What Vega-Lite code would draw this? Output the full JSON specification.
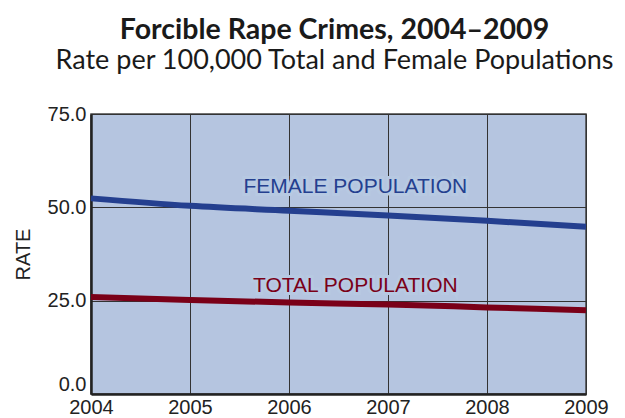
{
  "$schema": "https://vega.github.io/schema/vega-lite/v6.json",
  "autosize": "none",
  "width": 495,
  "height": 280,
  "padding": {"left": 91, "top": 114, "right": 39, "bottom": 24},
  "background": "white",
  "title": {
    "text": "Forcible Rape Crimes,  2004–2009",
    "subtitle": "Rate per 100,000 Total and Female Populations",
    "anchor": "middle",
    "frame": "group",
    "dx": -4,
    "offset": 30,
    "font": "Lato",
    "fontSize": 28.5,
    "fontWeight": "bold",
    "color": "#1a1a1a",
    "subtitleFont": "Lato",
    "subtitleFontSize": 27,
    "subtitleColor": "#1a1a1a",
    "subtitlePadding": 4
  },
  "config": {
    "view": {"fill": "#b5c5e0", "stroke": "#444", "strokeWidth": 1.5},
    "axis": {
      "labelFont": "Liberation Sans",
      "labelFontSize": 20,
      "labelColor": "#222",
      "titleFont": "Liberation Sans",
      "titleFontSize": 20,
      "titleFontWeight": "normal",
      "titleColor": "#222",
      "domainColor": "#222",
      "domainWidth": 2.5,
      "gridColor": "#333",
      "gridWidth": 1,
      "gridOpacity": 1,
      "ticks": false
    }
  },
  "data": {
    "values": [
      {"year": 2004, "series": "Female", "rate": 52.4},
      {"year": 2005, "series": "Female", "rate": 50.4},
      {"year": 2006, "series": "Female", "rate": 49.1},
      {"year": 2007, "series": "Female", "rate": 47.8},
      {"year": 2008, "series": "Female", "rate": 46.4},
      {"year": 2009, "series": "Female", "rate": 44.8},
      {"year": 2004, "series": "Total", "rate": 26.0},
      {"year": 2005, "series": "Total", "rate": 25.2},
      {"year": 2006, "series": "Total", "rate": 24.5},
      {"year": 2007, "series": "Total", "rate": 24.0},
      {"year": 2008, "series": "Total", "rate": 23.2},
      {"year": 2009, "series": "Total", "rate": 22.4}
    ]
  },
  "encoding": {
    "x": {
      "field": "year",
      "type": "quantitative",
      "scale": {"domain": [2004, 2009], "nice": false, "zero": false},
      "axis": {"title": null, "values": [2004, 2005, 2006, 2007, 2008, 2009], "format": "d", "labelPadding": 3, "labelFlush": false}
    },
    "y": {
      "field": "rate",
      "type": "quantitative",
      "scale": {"domain": [0, 75], "nice": false},
      "axis": {
        "title": "RATE",
        "values": [0, 25, 50, 75],
        "format": ".1f",
        "labelPadding": 5,
        "titlePadding": 14,
        "labelBaseline": {"condition": {"test": "datum.value == 0", "value": "bottom"}, "value": "middle"}
      }
    }
  },
  "layer": [
    {
      "data": {"values": [
          {"year": 2006.67, "rate": 53.9, "label": "FEMALE POPULATION", "series": "Female"},
          {"year": 2006.67, "rate": 27.4, "label": "TOTAL POPULATION", "series": "Total"}
      ]},
      "mark": {"type": "text", "font": "Liberation Sans", "fontSize": 21, "baseline": "alphabetic", "align": "center", "stroke": "#b7c9e2", "strokeWidth": 6, "strokeJoin": "miter", "fill": "#b7c9e2"},
      "encoding": {"text": {"field": "label"}}
    },
    {
      "mark": {"type": "line", "strokeWidth": 6, "interpolate": "monotone"},
      "encoding": {
        "color": {
          "field": "series",
          "type": "nominal",
          "scale": {"domain": ["Female", "Total"], "range": ["#243f8f", "#7a0018"]},
          "legend": null
        }
      }
    },
    {
      "data": {"values": [
          {"year": 2006.67, "rate": 53.9, "label": "FEMALE POPULATION", "series": "Female"},
          {"year": 2006.67, "rate": 27.4, "label": "TOTAL POPULATION", "series": "Total"}
      ]},
      "mark": {"type": "text", "font": "Liberation Sans", "fontSize": 21, "baseline": "alphabetic", "align": "center"},
      "encoding": {
        "text": {"field": "label"},
        "color": {
          "field": "series",
          "type": "nominal",
          "scale": {"domain": ["Female", "Total"], "range": ["#2a4595", "#7a0a1e"]},
          "legend": null
        }
      }
    }
  ]
}
